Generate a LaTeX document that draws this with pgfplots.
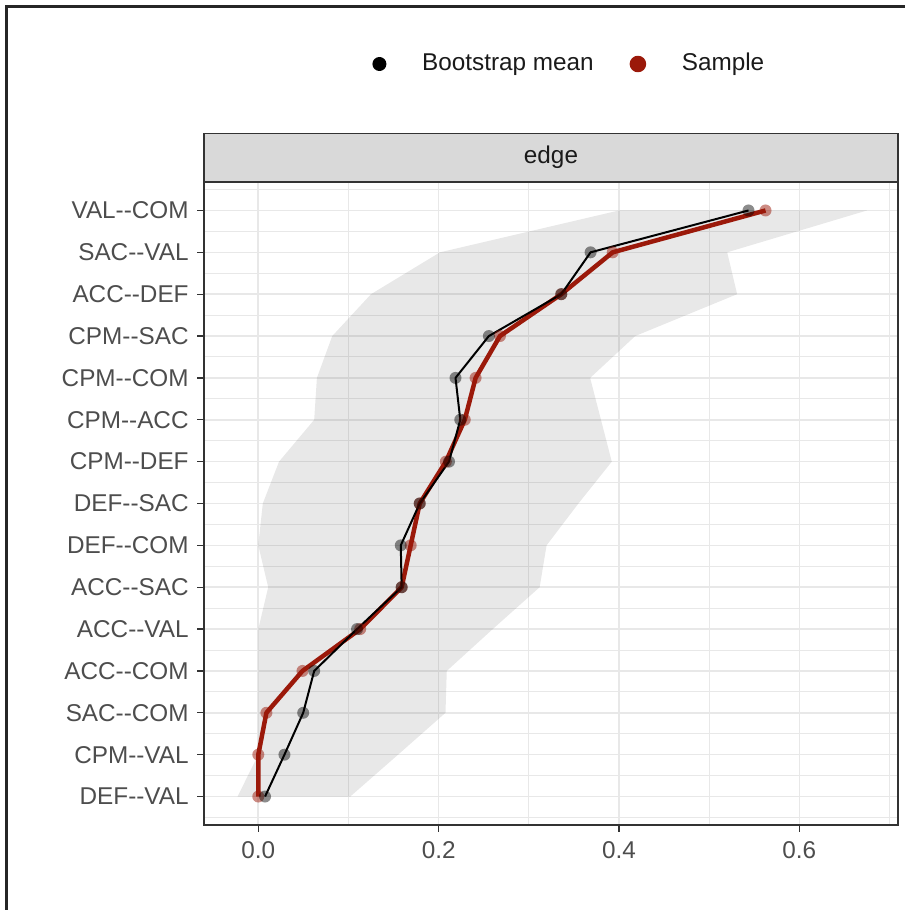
\documentclass[border=0pt]{standalone}
\usepackage{pgfplots}
\pgfplotsset{compat=1.18}
\usepackage{fontspec}
\setmainfont{Liberation Sans}
\newlength\px
\setlength\px{0.5pt}
\definecolor{gridc}{HTML}{E8E8E8}
\definecolor{axc}{HTML}{333333}
\definecolor{tickc}{HTML}{4D4D4D}
\definecolor{stripc}{HTML}{D9D9D9}
\definecolor{txtc}{HTML}{1A1A1A}
\definecolor{sampred}{RGB}{155,25,10}
\begin{document}
\fontsize{12.15}{14}\selectfont
\begin{tikzpicture}
\useasboundingbox (0,0) rectangle (905\px,910\px);
\draw[line width=2.5\px, color=black!85] (6.5\px,0) -- (6.5\px,903.5\px) -- (905\px,903.5\px);
\begin{axis}[
  at={(204\px,85\px)}, anchor=south west,
  scale only axis, width=694\px, height=643\px,
  xmin=-0.0602, xmax=0.7094, ymin=-0.68, ymax=14.68,
  xtick={0,0.2,0.4,0.6}, xticklabels={0.0,0.2,0.4,0.6},
  minor xtick={0.1,0.3,0.5,0.7},
  ytick={0,...,14},
  minor ytick={-0.5,0.5,1.5,2.5,3.5,4.5,5.5,6.5,7.5,8.5,9.5,10.5,11.5,12.5,13.5,14.5},
  yticklabels={DEF-{}-VAL,CPM-{}-VAL,SAC-{}-COM,ACC-{}-COM,ACC-{}-VAL,ACC-{}-SAC,DEF-{}-COM,DEF-{}-SAC,CPM-{}-DEF,CPM-{}-ACC,CPM-{}-COM,CPM-{}-SAC,ACC-{}-DEF,SAC-{}-VAL,VAL-{}-COM},
  grid=both,
  major grid style={color=gridc, line width=1.6\px},
  minor grid style={color=gridc, line width=1\px},
  axis line style={color=axc, line width=1.3\px},
  tick align=outside, major tick length=7\px, minor tick length=0pt,
  tick style={color=axc, line width=1.3\px},
  xtick pos=bottom, ytick pos=left,
  ticklabel style={font=\fontsize{12.15}{14}\selectfont, text=tickc},
  xticklabel style={inner sep=0pt, yshift=-9\px},
  yticklabel style={inner sep=0pt, xshift=-8\px},
  title={edge},
  title style={at={(0.5,1)}, anchor=south, yshift=-6pt, fill=stripc, draw=axc, line width=1.3\px,
    minimum width=694\px, minimum height=48\px, inner sep=0pt, text=txtc,
    font=\fontsize{12.15}{14}\selectfont},
  legend style={at={(0.525,1.1835)}, anchor=center, draw=none, fill=none,
    font=\fontsize{12.15}{14}\selectfont, text=txtc,
    nodes={inner sep=0pt},
    /tikz/every odd column/.append style={column sep=35.7\px},
    /tikz/every even column/.append style={column sep=36\px}},
  legend columns=2,
  reverse legend,
]
% bootstrap interval band
\addplot[fill=black, fill opacity=0.09, draw=none, forget plot] coordinates {
(-0.023,0) (0,1) (0,2) (0,3) (0,4) (0.011,5) (0,6) (0.005,7) (0.023,8) (0.062,9) (0.065,10) (0.082,11) (0.125,12) (0.2015,13) (0.400,14)
(0.675,14) (0.520,13) (0.531,12) (0.418,11) (0.368,10) (0.380,9) (0.392,8) (0.355,7) (0.3197,6) (0.312,5) (0.260,4) (0.209,3) (0.2076,2) (0.155,1) (0.102,0)
} -- cycle;
% sample
\addplot[color=sampred, line width=4.5\px, line join=round, mark=*, mark size=6\px,
  mark options={draw=none, draw opacity=0, line width=0pt, fill=sampred, fill opacity=0.5},
  legend image code/.code={\fill[sampred] (0,0) circle (6\px);}] coordinates {
(0,0) (0,1) (0.009,2) (0.049,3) (0.113,4) (0.159,5) (0.169,6) (0.179,7) (0.208,8) (0.229,9) (0.241,10) (0.268,11) (0.336,12) (0.393,13) (0.5625,14)
};
% bootstrap mean
\addplot[color=black, line width=2\px, line join=round, mark=*, mark size=6\px,
  mark options={draw=none, draw opacity=0, line width=0pt, fill=black, fill opacity=0.45},
  legend image code/.code={\fill[black] (0,0) circle (6\px);}] coordinates {
(0.0075,0) (0.029,1) (0.0498,2) (0.062,3) (0.1095,4) (0.159,5) (0.158,6) (0.179,7) (0.2115,8) (0.224,9) (0.2187,10) (0.2557,11) (0.336,12) (0.3685,13) (0.5436,14)
};
\legend{Sample,Bootstrap mean}
\end{axis}
\end{tikzpicture}
\end{document}
